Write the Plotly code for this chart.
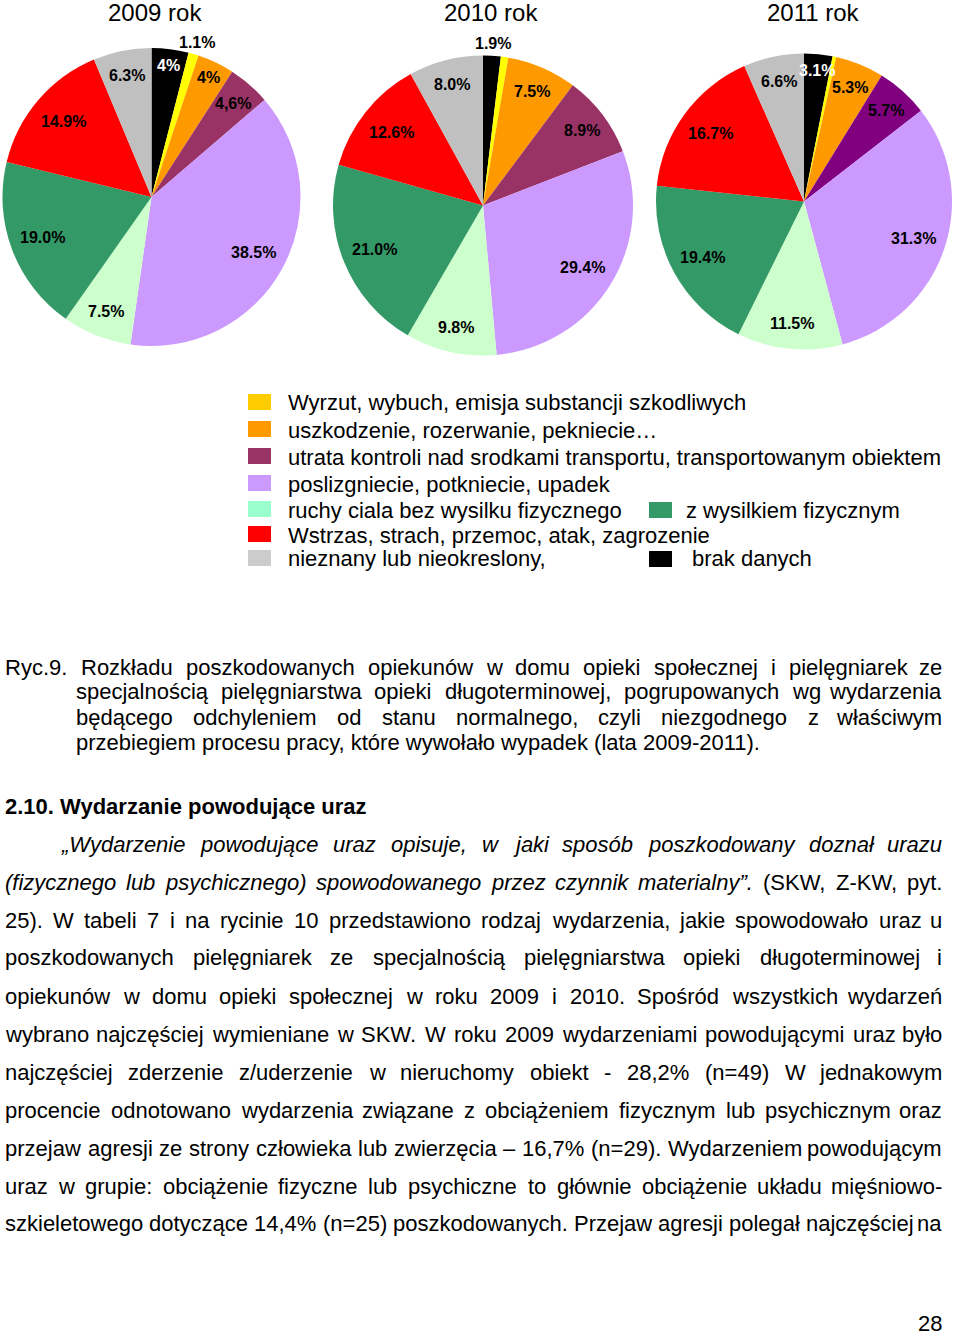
import math
import plotly.graph_objects as go

W, H = 960, 1335

# ---------------- data ----------------
categories = [
    "brak danych",
    "Wyrzut, wybuch, emisja substancji szkodliwych",
    "uszkodzenie, rozerwanie, pekniecie…",
    "utrata kontroli nad srodkami transportu, transportowanym obiektem",
    "poslizgniecie, potkniecie, upadek",
    "ruchy ciala bez wysilku fizycznego",
    "z wysilkiem fizycznym",
    "Wstrzas, strach, przemoc, atak, zagrozenie",
    "nieznany lub nieokreslony,",
]
years = ["2009 rok", "2010 rok", "2011 rok"]
values_2009 = [4.0, 1.1, 4.0, 4.6, 38.5, 7.5, 19.0, 14.9, 6.3]
values_2010 = [1.9, 0.8, 7.5, 8.9, 29.4, 9.8, 21.0, 12.6, 8.0]
values_2011 = [3.1, 0.4, 5.3, 5.7, 31.3, 11.5, 19.4, 16.7, 6.6]
labels_2009 = ["4%", "1.1%", "4%", "4,6%", "38.5%", "7.5%", "19.0%", "14.9%", "6.3%"]
labels_2010 = ["1.9%", "", "7.5%", "8.9%", "29.4%", "9.8%", "21.0%", "12.6%", "8.0%"]
labels_2011 = ["3.1%", "", "5.3%", "5.7%", "31.3%", "11.5%", "19.4%", "16.7%", "6.6%"]

legend_rows = [
    ("Wyrzut, wybuch, emisja substancji szkodliwych", "#FFCC00", None, None),
    ("uszkodzenie, rozerwanie, pekniecie…", "#FF9900", None, None),
    ("utrata kontroli nad srodkami transportu, transportowanym obiektem", "#993366", None, None),
    ("poslizgniecie, potkniecie, upadek", "#CC99FF", None, None),
    ("ruchy ciala bez wysilku fizycznego", "#99FFCC", "z wysilkiem fizycznym", "#339966"),
    ("Wstrzas, strach, przemoc, atak, zagrozenie", "#FF0000", None, None),
    ("nieznany lub nieokreslony,", "#CCCCCC", "brak danych", "#000000"),
]

caption_first = "Ryc.9."
caption_lines = [
    "Rozkładu poszkodowanych opiekunów w domu opieki społecznej i pielęgniarek ze",
    "specjalnością pielęgniarstwa opieki długoterminowej, pogrupowanych wg wydarzenia",
    "będącego odchyleniem od stanu normalnego, czyli niezgodnego z właściwym",
    "przebiegiem procesu pracy, które wywołało wypadek (lata 2009-2011).",
]
heading = "2.10. Wydarzanie powodujące uraz"
body_lines = [
    "„Wydarzenie powodujące uraz opisuje, w jaki sposób poszkodowany doznał urazu",
    "(fizycznego lub psychicznego) spowodowanego przez czynnik materialny”. (SKW, Z-KW, pyt.",
    "25). W tabeli 7 i na rycinie 10 przedstawiono rodzaj wydarzenia, jakie spowodowało uraz u",
    "poszkodowanych pielęgniarek ze specjalnością pielęgniarstwa opieki długoterminowej i",
    "opiekunów w domu opieki społecznej w roku 2009 i 2010. Spośród wszystkich wydarzeń",
    "wybrano najczęściej wymieniane w SKW. W roku 2009 wydarzeniami powodującymi uraz było",
    "najczęściej zderzenie z/uderzenie w nieruchomy obiekt - 28,2% (n=49) W jednakowym",
    "procencie odnotowano wydarzenia związane z obciążeniem fizycznym lub psychicznym oraz",
    "przejaw agresji ze strony człowieka lub zwierzęcia – 16,7% (n=29). Wydarzeniem powodującym",
    "uraz w grupie: obciążenie fizyczne lub psychiczne to głównie obciążenie układu mięśniowo-",
    "szkieletowego dotyczące 14,4% (n=25) poszkodowanych. Przejaw agresji polegał najczęściej na",
]
body_italic_words = [99, 7, 0, 0, 0, 0, 0, 0, 0, 0, 0]
page_number = "28"

# ---------------- style ----------------
FONT = "Liberation Sans, Arial, sans-serif"
base_colors = ["#000000", "#FFFF00", "#FF9900", "#993366", "#CC99FF",
               "#CCFFCC", "#339966", "#FF0000", "#C0C0C0"]
colors_2011 = list(base_colors)
colors_2011[3] = "#800080"
pie_colors = [base_colors, base_colors, colors_2011]
pie_geom = [(151.5, 197, 149), (483, 205.5, 150), (804, 201.5, 148)]  # cx, cy, R in px
title_x = [155, 491, 813]

def px(x):
    return x / W

def py(y):
    return 1 - y / H

fig = go.Figure()
annotations = []
shapes = []

all_values = [values_2009, values_2010, values_2011]
all_labels = [labels_2009, labels_2010, labels_2011]

for k in range(3):
    cx, cy, R = pie_geom[k]
    vals = all_values[k]
    fig.add_trace(go.Pie(
        values=vals, labels=categories, sort=False, direction="clockwise",
        rotation=0, textinfo="none", hoverinfo="label+percent",
        marker=dict(colors=pie_colors[k], line=dict(width=0)),
        domain=dict(x=[px(cx - R), px(cx + R)], y=[py(cy + R), py(cy - R)]),
        showlegend=False,
    ))
    total = sum(vals)
    cum = 0.0
    for v, lab, col in zip(vals, all_labels[k], pie_colors[k]):
        mid = (cum + v / 2) / total * 2 * math.pi
        cum += v
        if not lab:
            continue
        if v < 2:
            rf = 1.08
        elif v < 4.5:
            rf = 0.89
        elif v < 12:
            rf = 0.83
        else:
            rf = 0.78
        lx = cx + rf * R * math.sin(mid)
        ly = cy - rf * R * math.cos(mid)
        tcol = "white" if (col == "#000000" and v >= 2) else "black"
        annotations.append(dict(
            x=px(lx), y=py(ly), xref="paper", yref="paper", showarrow=False,
            text="<b>%s</b>" % lab, font=dict(family=FONT, size=16, color=tcol),
            xanchor="center", yanchor="middle"))
    annotations.append(dict(
        x=px(title_x[k]), y=py(12), xref="paper", yref="paper", showarrow=False,
        text=years[k], font=dict(family=FONT, size=24, color="black"),
        xanchor="center", yanchor="middle"))

# ---------------- legend ----------------
row_y = [403, 430, 457, 484, 510, 535, 559]
for (t1, c1, t2, c2), yc in zip(legend_rows, row_y):
    shapes.append(dict(type="rect", xref="paper", yref="paper",
                       x0=px(248), x1=px(271), y0=py(yc + 7), y1=py(yc - 9),
                       fillcolor=c1, line=dict(width=0)))
    annotations.append(dict(x=px(287), y=py(yc), xref="paper", yref="paper",
                            showarrow=False, text=t1, xanchor="left", yanchor="middle",
                            borderpad=0, font=dict(family=FONT, size=22, color="black")))
    if t2:
        shapes.append(dict(type="rect", xref="paper", yref="paper",
                           x0=px(649), x1=px(672), y0=py(yc + 8), y1=py(yc - 8),
                           fillcolor=c2, line=dict(width=0)))
        tx = 685 if c2 != "#000000" else 691
        annotations.append(dict(x=px(tx), y=py(yc), xref="paper", yref="paper",
                                showarrow=False, text=t2, xanchor="left", yanchor="middle",
                                borderpad=0, font=dict(family=FONT, size=22, color="black")))

# ---------------- justified text ----------------
AW = {' ': 278, '.': 278, ',': 278, ':': 278, ';': 278, '-': 333, '–': 556, '(': 333,
      ')': 333, '%': 889, '=': 584, '/': 278, '„': 333, '”': 333, '…': 1000}
for ch, w in zip("abcdefghijklmnopqrstuvwxyz",
                 [556, 556, 500, 556, 556, 278, 556, 556, 222, 222, 500, 222, 833,
                  556, 556, 556, 556, 333, 500, 278, 556, 500, 722, 500, 500, 500]):
    AW[ch] = w
for ch, w in zip("ABCDEFGHIJKLMNOPQRSTUVWXYZ",
                 [667, 667, 722, 722, 667, 611, 778, 722, 278, 500, 667, 556, 833,
                  722, 778, 667, 778, 722, 667, 611, 722, 667, 944, 667, 667, 611]):
    AW[ch] = w
for ch in "0123456789":
    AW[ch] = 556
AW.update({'ą': 556, 'ę': 556, 'ć': 500, 'ł': 222, 'ń': 556, 'ó': 556, 'ś': 500,
           'ź': 500, 'ż': 500, 'Ś': 667})

def tw(s, size):
    return sum(AW.get(c, 556) for c in s) * size / 1000.0

def justify(line, xl, xr, yc, size=22, italic=0):
    words = line.split(" ")
    widths = [tw(w, size) for w in words]
    n = len(words)
    gap = (xr - xl - sum(widths)) / (n - 1) if n > 1 else 0
    gap = max(gap, tw(" ", size) * 0.6)
    x = xl
    for i, w in enumerate(words):
        txt = "<i>%s</i>" % w if i < italic else w
        if i == n - 1 and n > 1:
            annotations.append(dict(x=px(xr), y=py(yc), xref="paper", yref="paper",
                                    showarrow=False, text=txt, xanchor="right",
                                    yanchor="middle", borderpad=0,
                                    font=dict(family=FONT, size=size, color="black")))
        else:
            annotations.append(dict(x=px(x), y=py(yc), xref="paper", yref="paper",
                                    showarrow=False, text=txt, xanchor="left",
                                    yanchor="middle", borderpad=0,
                                    font=dict(family=FONT, size=size, color="black")))
        x += widths[i] + gap

def left_line(txt, xl, yc, size=22):
    annotations.append(dict(x=px(xl), y=py(yc), xref="paper", yref="paper",
                            showarrow=False, text=txt, xanchor="left", yanchor="middle",
                            borderpad=0, font=dict(family=FONT, size=size, color="black")))

cap_y = [667, 692, 717, 742]
left_line(caption_first, 4, cap_y[0])
justify(caption_lines[0], 80, 943, cap_y[0])
justify(caption_lines[1], 75, 943, cap_y[1])
justify(caption_lines[2], 75, 943, cap_y[2])
left_line(caption_lines[3], 75, cap_y[3])

left_line("<b>%s</b>" % heading, 4, 806)

body_y = [844, 882, 920, 958, 996, 1034, 1072, 1110, 1148, 1186, 1223]
for i, (line, yc) in enumerate(zip(body_lines, body_y)):
    xl = 60 if i == 0 else 4
    justify(line, xl, 943, yc, italic=body_italic_words[i])

annotations.append(dict(x=px(943), y=py(1323), xref="paper", yref="paper",
                        showarrow=False, text=page_number, xanchor="right",
                        yanchor="middle", borderpad=0,
                        font=dict(family=FONT, size=22, color="black")))

fig.update_layout(
    width=W, height=H, margin=dict(l=0, r=0, t=0, b=0),
    paper_bgcolor="white", plot_bgcolor="white",
    annotations=annotations, shapes=shapes, showlegend=False,
)
fig.write_html("out.html")
